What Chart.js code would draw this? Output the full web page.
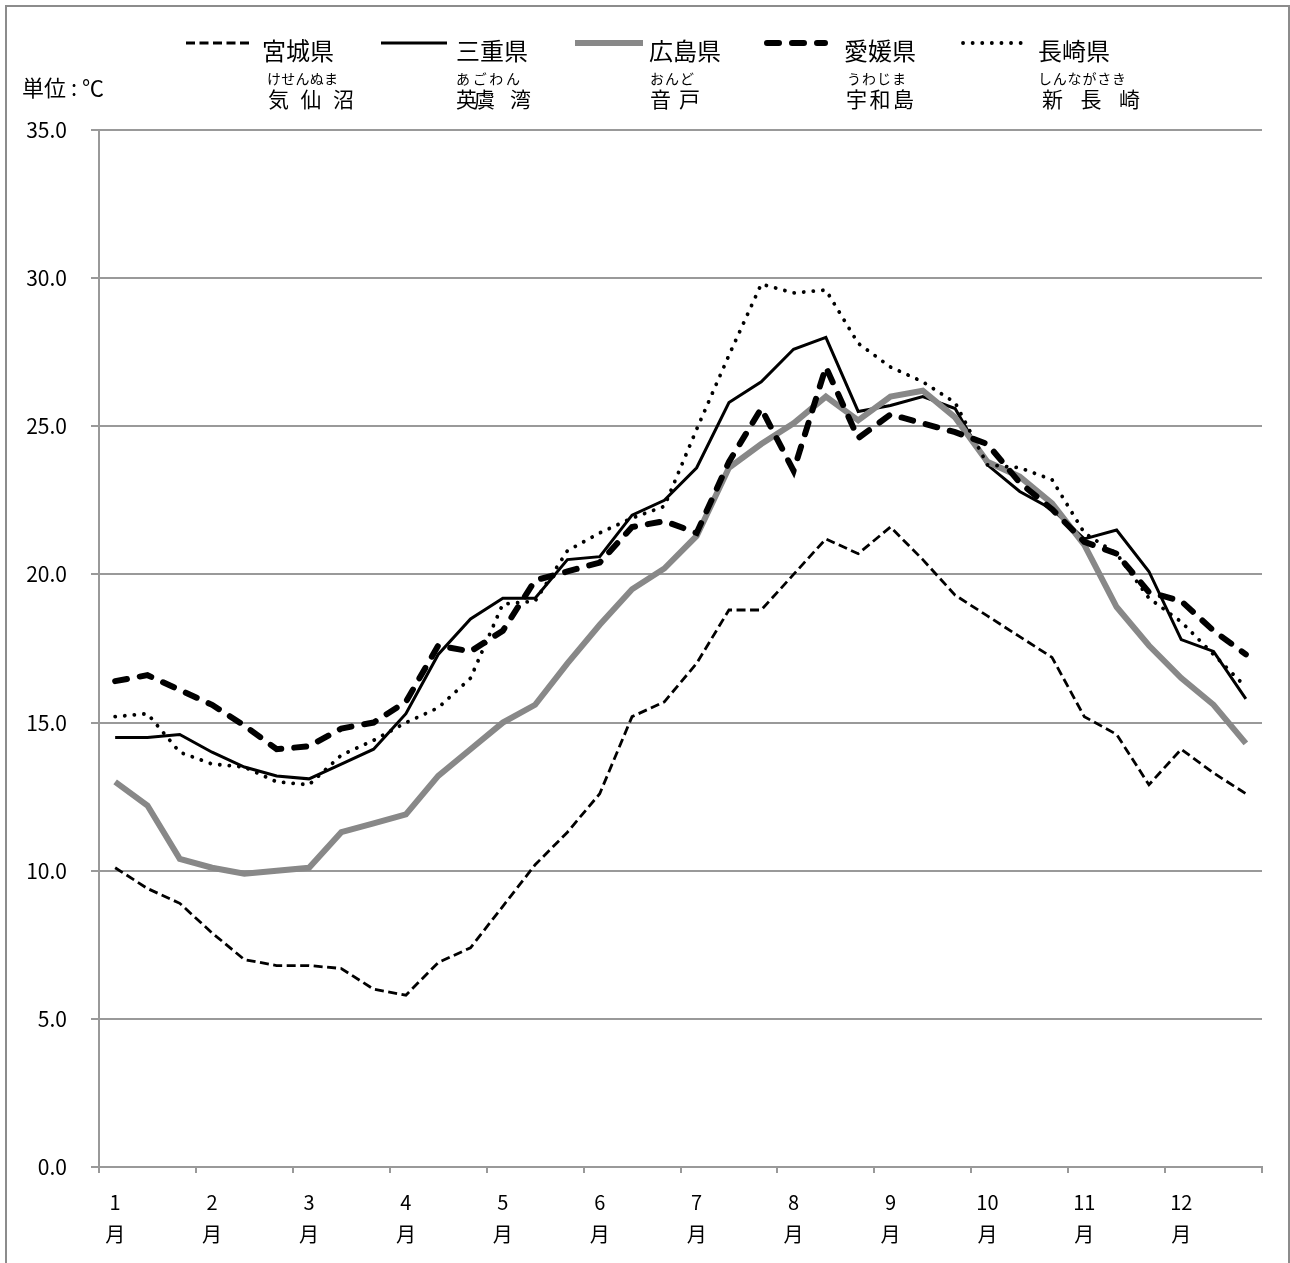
<!DOCTYPE html>
<html lang="ja">
<head>
<meta charset="utf-8">
<title>旬別平均水温</title>
<script src="https://cdn.jsdelivr.net/npm/chart.js@4.4.1/dist/chart.umd.min.js"></script>
<style>
  html, body { margin: 0; padding: 0; background: #fff; overflow: hidden; }
  canvas { display: block; }
</style>
</head>
<body>
<canvas id="chart" width="1290" height="1263"></canvas>
<script>
// 月と旬（上旬・中旬・下旬）
const months = ['1', '2', '3', '4', '5', '6', '7', '8', '9', '10', '11', '12'];
const decades = ['上旬', '中旬', '下旬'];
const yTicks = [0, 5, 10, 15, 20, 25, 30, 35];

const prefectures = ['宮城県', '三重県', '広島県', '愛媛県', '長崎県'];
const places = ['気 仙 沼', '英虞 湾', '音 戸', '宇和島', '新 長 崎'];
const readings = ['けせんぬま', 'あごわん', 'おんど', 'うわじま', 'しんながさき'];

// 単位：℃
const miyagi = [10.1, 9.4, 8.9, 7.9, 7.0, 6.8, 6.8, 6.7, 6.0, 5.8, 6.9, 7.4,
  8.8, 10.2, 11.3, 12.6, 15.2, 15.7, 17.0, 18.8, 18.8, 20.0, 21.2, 20.7,
  21.6, 20.5, 19.3, 18.6, 17.9, 17.2, 15.2, 14.6, 12.9, 14.1, 13.3, 12.6];
const mie = [14.5, 14.5, 14.6, 14.0, 13.5, 13.2, 13.1, 13.6, 14.1, 15.3, 17.3, 18.5,
  19.2, 19.2, 20.5, 20.6, 22.0, 22.5, 23.6, 25.8, 26.5, 27.6, 28.0, 25.5,
  25.7, 26.0, 25.6, 23.7, 22.8, 22.2, 21.2, 21.5, 20.1, 17.8, 17.4, 15.8];
const hiroshima = [13.0, 12.2, 10.4, 10.1, 9.9, 10.0, 10.1, 11.3, 11.6, 11.9, 13.2, 14.1,
  15.0, 15.6, 17.0, 18.3, 19.5, 20.2, 21.3, 23.6, 24.4, 25.1, 26.0, 25.2,
  26.0, 26.2, 25.3, 23.8, 23.3, 22.4, 21.0, 18.9, 17.6, 16.5, 15.6, 14.3];
const ehime = [16.4, 16.6, 16.1, 15.6, 14.9, 14.1, 14.2, 14.8, 15.0, 15.7, 17.6, 17.4,
  18.1, 19.8, 20.1, 20.4, 21.6, 21.8, 21.4, 23.8, 25.6, 23.5, 27.0, 24.6,
  25.4, 25.1, 24.8, 24.4, 23.1, 22.2, 21.1, 20.7, 19.4, 19.1, 18.1, 17.3];
const nagasaki = [15.2, 15.3, 14.0, 13.6, 13.5, 13.0, 12.9, 13.9, 14.4, 15.0, 15.5, 16.5,
  19.0, 19.1, 20.8, 21.4, 21.9, 22.3, 24.9, 27.4, 29.8, 29.5, 29.6, 27.8,
  27.0, 26.5, 25.8, 23.7, 23.6, 23.2, 21.4, 20.7, 19.2, 18.4, 17.3, 16.2];

const labels = months.flatMap(m => decades.map(d => m + '月' + d));

const GRAY = '#999999';
const FONT = '"Noto Sans CJK JP", "Noto Sans", sans-serif';
Chart.defaults.font.family = FONT;
Chart.defaults.color = '#000';

const styles = [
  { borderColor: '#000', borderWidth: 2.8, borderDash: [9, 4.5] },
  { borderColor: '#000', borderWidth: 3 },
  { borderColor: '#888888', borderWidth: 6 },
  { borderColor: '#000', borderWidth: 6, borderDash: [12, 13], borderCapStyle: 'round' },
  { borderColor: '#000', borderWidth: 3.8, borderDash: [0.1, 9.5], borderCapStyle: 'round' },
];
const values = [miyagi, mie, hiroshima, ehime, nagasaki];

const datasets = prefectures.map((name, i) => ({
  label: name,
  data: values[i],
  ...styles[i],
  pointRadius: 0,
  tension: 0,
  fill: false,
  order: prefectures.length - 1 - i, // 後の系列を上に描く
}));

// 外枠
const framePlugin = {
  id: 'frame',
  beforeDraw(chart) {
    const ctx = chart.ctx;
    ctx.save();
    ctx.fillStyle = '#fff';
    ctx.fillRect(0, 0, chart.width, chart.height);
    ctx.strokeStyle = '#8c8c8c';
    ctx.lineWidth = 2;
    ctx.strokeRect(6, 6, 1283, 1300);
    ctx.restore();
  }
};

// 文字を幅いっぱいに均等配置
function drawSpread(ctx, text, x0, x1, y) {
  const chars = [...text];
  const w = ctx.measureText('あ').width;
  const pitch = chars.length > 1 ? (x1 - x0 - w) / (chars.length - 1) : 0;
  chars.forEach((ch, k) => {
    if (ch !== ' ') ctx.fillText(ch, x0 + k * pitch, y);
  });
}

// 凡例と地名（ふりがな付き）
const legendPos = [
  { line: [186, 250], text: 262, furi: [267, 338], place: [268, 354] },
  { line: [381, 447], text: 456, furi: [456, 520], place: [456, 531] },
  { line: [575, 643], text: 649, furi: [650, 694], place: [650, 700] },
  { line: [767, 825], text: 844, furi: [847, 906], place: [846, 914] },
  { line: [963, 1030], text: 1038, furi: [1038, 1126], place: [1042, 1140] },
];

const headerPlugin = {
  id: 'header',
  afterDraw(chart) {
    const ctx = chart.ctx;
    ctx.save();
    ctx.fillStyle = '#000';
    ctx.textBaseline = 'middle';
    ctx.textAlign = 'left';
    ctx.font = '22px ' + FONT;
    ctx.fillText('単位 : ℃', 22, 88);

    chart.data.datasets.forEach((ds, i) => {
      const p = legendPos[i];
      ctx.save();
      ctx.strokeStyle = ds.borderColor;
      ctx.lineWidth = ds.borderWidth;
      ctx.setLineDash(ds.borderDash || []);
      ctx.lineCap = ds.borderCapStyle || 'butt';
      ctx.beginPath();
      ctx.moveTo(p.line[0], 43);
      ctx.lineTo(p.line[1], 43);
      ctx.stroke();
      ctx.restore();

      ctx.font = '24px ' + FONT;
      ctx.fillText(ds.label, p.text, 51);
      ctx.font = '14px ' + FONT;
      drawSpread(ctx, readings[i], p.furi[0], p.furi[1], 79);
      ctx.font = '21px ' + FONT;
      drawSpread(ctx, places[i], p.place[0], p.place[1], 99);
    });
    ctx.restore();
  }
};

new Chart(document.getElementById('chart'), {
  type: 'line',
  data: { labels, datasets },
  plugins: [framePlugin, headerPlugin],
  options: {
    responsive: false,
    animation: false,
    events: [],
    layout: { padding: { top: 130, right: 28, left: 0, bottom: 0 } },
    plugins: { legend: { display: false }, tooltip: { enabled: false } },
    scales: {
      x: {
        type: 'category',
        offset: true,
        afterFit(scale) { scale.height = 96; },
        grid: {
          offset: true,
          drawOnChartArea: false,
          tickLength: 6,
          lineWidth: 2,
          color: GRAY,
          tickColor: c => (c.index === undefined || c.index % 3 === 0) ? GRAY : 'rgba(0,0,0,0)',
        },
        border: { color: GRAY, width: 2 },
        ticks: {
          autoSkip: false,
          maxRotation: 0,
          padding: 13,
          font: { size: 20, lineHeight: 1.6 },
          callback: (v, i) => i % 3 === 0 ? [months[i / 3], '月'] : '',
        },
      },
      y: {
        min: yTicks[0],
        max: yTicks[yTicks.length - 1],
        afterFit(scale) { scale.width = 99; },
        afterBuildTicks(scale) { scale.ticks = yTicks.map(v => ({ value: v })); },
        grid: { color: GRAY, lineWidth: 2, tickLength: 8 },
        border: { color: GRAY, width: 2 },
        ticks: {
          padding: 24,
          font: { size: 21 },
          callback: v => v.toFixed(1),
        },
      },
    },
  },
});
</script>
</body>
</html>
